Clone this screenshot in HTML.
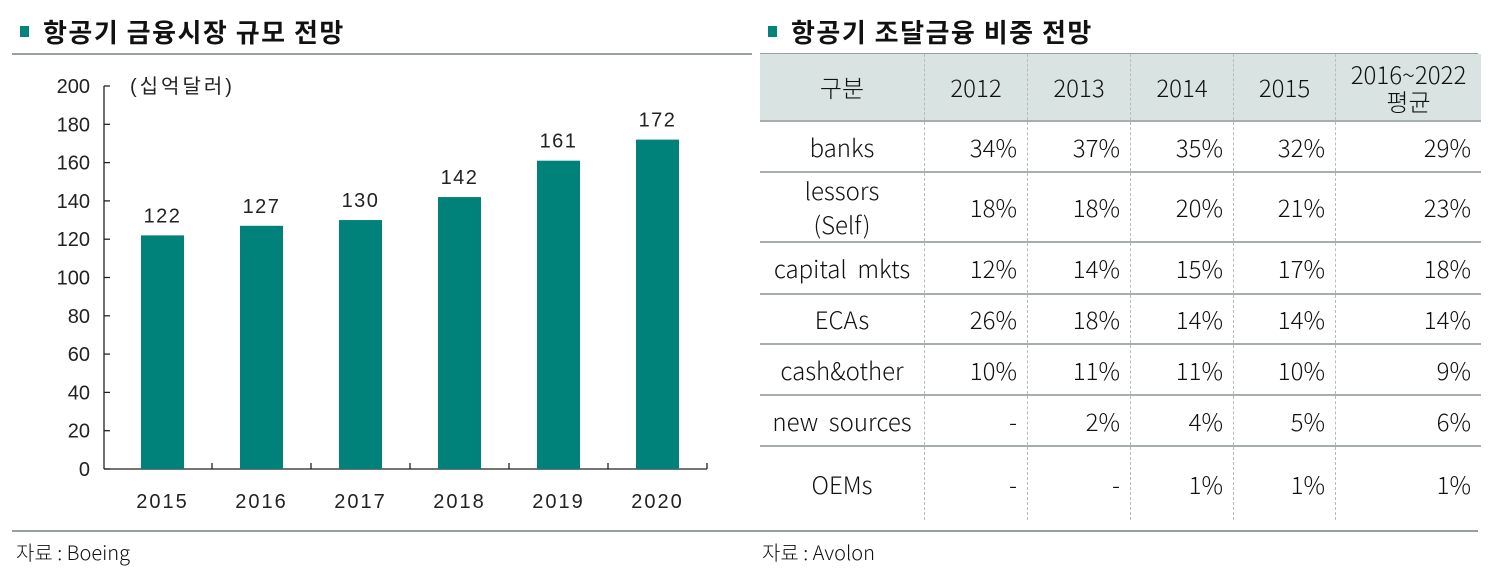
<!DOCTYPE html>
<html><head><meta charset="utf-8">
<style>
body{margin:0;width:1504px;height:569px;background:#fff;font-family:"Liberation Sans","Noto Sans CJK KR",sans-serif;position:relative;overflow:hidden;color:#111}
.title{position:absolute;top:13px;font-size:26px;font-weight:bold;font-family:"Noto Sans CJK KR",sans-serif;letter-spacing:1.5px}
.title .sq{display:inline-block;width:9px;height:11px;background:#00857d;margin-right:14px;vertical-align:middle;position:relative;top:-3px}
.rule{position:absolute;height:2px;background:#9aa0a2}
.src{position:absolute;top:537px;font-size:20px;font-family:"Noto Sans CJK KR",sans-serif;font-weight:300}
table{position:absolute;left:760px;top:54px;border-collapse:collapse;font-family:"Noto Sans CJK KR",sans-serif;font-size:24px;font-weight:300}
td,th{border-left:1px dashed #b8bcbc;border-bottom:2px solid #a8aeb0;padding:0 10px;line-height:26px}
th{background:#d9e3e2;font-weight:300}
td:first-child,th:first-child{border-left:none;text-align:center}
td{text-align:right}
tr:last-child td{border-bottom:none}
</style></head><body>
<div class="title" style="left:20px"><span class="sq"></span>항공기 금융시장 규모 전망</div>
<div class="title" style="left:768px"><span class="sq"></span>항공기 조달금융 비중 전망</div>
<div class="rule" style="left:12px;top:53px;width:740px"></div>
<div class="rule" style="left:760px;top:53px;width:718px"></div>
<div class="rule" style="left:12px;top:530px;width:1466px"></div>
<div class="src" style="left:16px">자료 : Boeing</div>
<div class="src" style="left:762px">자료 : Avolon</div>

<svg id="chart" width="752" height="530" style="position:absolute;left:0;top:0" font-family="Liberation Sans, Noto Sans CJK KR, sans-serif"></svg>

<table>
<tr style="height:67px"><th style="width:144px">구분</th><th style="width:82px">2012</th><th style="width:82px">2013</th><th style="width:82px">2014</th><th style="width:81px">2015</th><th style="width:125px;line-height:27px">2016~2022<br>평균</th></tr>
<tr style="height:51px"><td>banks</td><td>34%</td><td>37%</td><td>35%</td><td>32%</td><td>29%</td></tr>
<tr style="height:66px"><td style="line-height:34px">lessors<br>(Self)</td><td>18%</td><td>18%</td><td>20%</td><td>21%</td><td>23%</td></tr>
<tr style="height:52px"><td>capital&nbsp; mkts</td><td>12%</td><td>14%</td><td>15%</td><td>17%</td><td>18%</td></tr>
<tr style="height:50px"><td>ECAs</td><td>26%</td><td>18%</td><td>14%</td><td>14%</td><td>14%</td></tr>
<tr style="height:51px"><td>cash&amp;other</td><td>10%</td><td>11%</td><td>11%</td><td>10%</td><td>9%</td></tr>
<tr style="height:51px"><td>new&nbsp; sources</td><td>-</td><td>2%</td><td>4%</td><td>5%</td><td>6%</td></tr>
<tr style="height:74px"><td>OEMs</td><td>-</td><td>-</td><td>1%</td><td>1%</td><td>1%</td></tr>
</table>

<script>
const categories=["2015","2016","2017","2018","2019","2020"];
const values=[122,127,130,142,161,172];
const ticks=[0,20,40,60,80,100,120,140,160,180,200];
const NS="http://www.w3.org/2000/svg";
const svg=document.getElementById('chart');
const y0=469,y1=86,vmax=200,axX=104,bandX=113,band=99,barW=43;
const yS=v=>y0-(v/vmax)*(y0-y1);
const xC=i=>bandX+band*i+band/2;
function mk(t,a){const e=document.createElementNS(NS,t);for(const k in a)e.setAttribute(k,a[k]);svg.appendChild(e);return e;}
let ya=mk('line',{x1:axX,y1:y1,x2:axX,y2:y0,stroke:'#222','stroke-width':1.3});


let xa=mk('line',{x1:axX,y1:y0,x2:bandX+band*categories.length,y2:y0,stroke:'#222','stroke-width':1.3});


ticks.forEach(t=>{
 mk('line',{x1:axX,y1:yS(t),x2:axX+6,y2:yS(t),stroke:'#222','stroke-width':1.3});
 let tx=mk('text',{x:90,y:yS(t)+7,'text-anchor':'end','font-size':20,fill:'#222'});
 tx.textContent=t;
 
 
});
for(let i=1;i<=categories.length;i++){mk('line',{x1:bandX+band*i,y1:y0,x2:bandX+band*i,y2:y0-6,stroke:'#222','stroke-width':1.3});}
let unit=mk('text',{x:130,y:93,'font-size':20,fill:'#222','letter-spacing':'3'});
unit.textContent='(십억달러)';


categories.forEach((c,i)=>{
 let r=mk('rect',{x:xC(i)-barW/2,y:yS(values[i]),width:barW,height:y0-yS(values[i]),fill:'#00827a'});
 
 
 let v=mk('text',{x:xC(i),y:yS(values[i])-13,'text-anchor':'middle','font-size':20,fill:'#222','letter-spacing':'1.5'});
 v.textContent=values[i];
 
 
 let l=mk('text',{x:xC(i),y:508,'text-anchor':'middle','font-size':20,fill:'#222','letter-spacing':'2'});
 l.textContent=c;
 
 
});
</script>
</body></html>
